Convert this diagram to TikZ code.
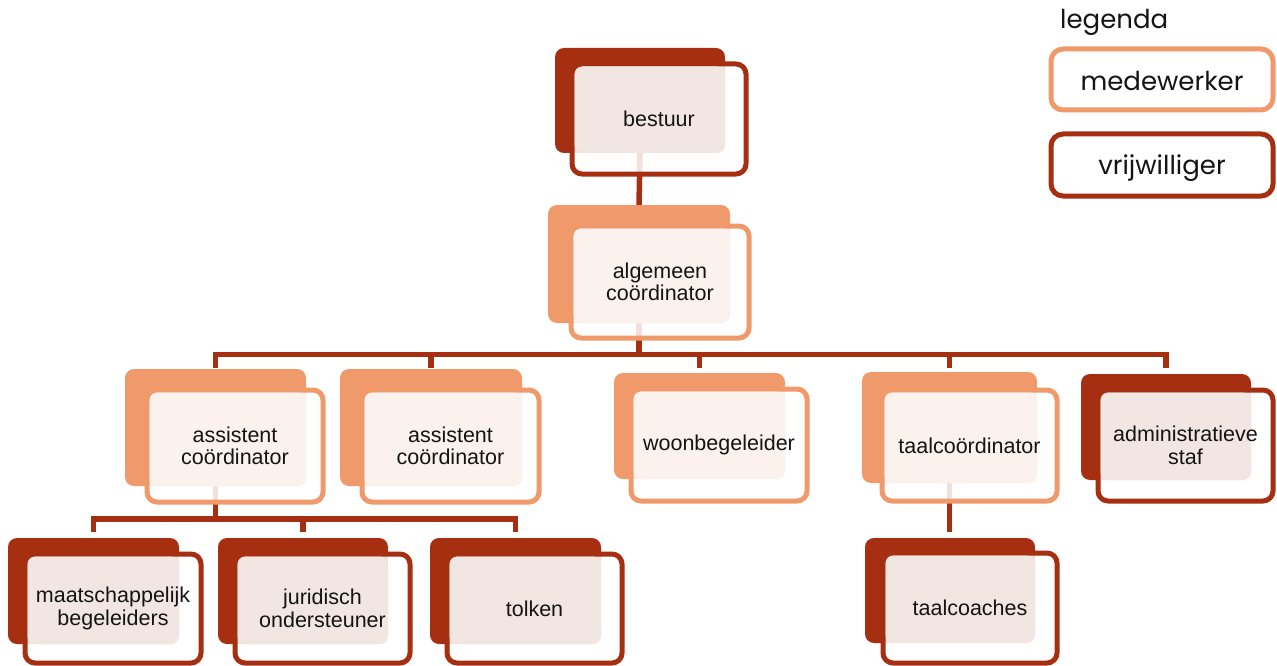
\documentclass[tikz,border=0pt]{standalone}
\usepackage{fontspec}
\setmainfont{Liberation Sans}
\newfontfamily\legendfont{Poppins}
\usetikzlibrary{fit,calc}
\definecolor{darkred}{RGB}{166,47,18}
\definecolor{peach}{RGB}{240,154,108}
\definecolor{lightdark}{RGB}{242,230,226}
\definecolor{lightpeach}{RGB}{252,242,237}
\definecolor{txt}{RGB}{20,20,20}
\pgfdeclarelayer{background}
\pgfsetlayers{background,main}
\tikzset{
  backbox/.style={inner sep=0pt, outer sep=0pt, rounded corners=9pt, fill=#1},
  frontbox/.style={inner sep=0pt, outer sep=0pt, rounded corners=10pt, draw=#1, line width=5pt, fill=white, fill opacity=0.85},
  boxtext/.style={align=center, text=txt, font=\fontsize{21.5pt}{22.5pt}\selectfont, inner sep=0pt},
  conn/.style={draw=darkred, line width=5.5pt},
  legbox/.style={draw=#1, line width=5pt, rounded corners=12pt, fill=white},
  legtext/.style={text=txt, font=\legendfont\fontsize{26pt}{28pt}\selectfont, inner sep=0pt}
}
% #1 name, #2 main colour, #3 light colour, #4 back NW, #5 back SE, #6 front NW, #7 front SE, #8 text
\newcommand{\orgbox}[8]{%
  \coordinate (#1-b1) at (#4); \coordinate (#1-b2) at (#5);
  \coordinate (#1-f1) at (#6); \coordinate (#1-f2) at (#7);
  \node[backbox=#2, fit=(#1-b1)(#1-b2)] (#1) {};
  \node[frontbox=#2, fit=(#1-f1)(#1-f2)] (#1-f) {};
  \fill[#3, rounded corners=8pt] ($(#1-f.north west)+(2.5,2.5)$) rectangle (#1.south east);
  \node[boxtext] (#1-t) at (#1-f.center) {#8};
}
\begin{document}
\begin{tikzpicture}[x=1pt,y=-1pt]
\useasboundingbox (0,0) rectangle (1277,666);

\orgbox{bestuur}{darkred}{lightdark}{555,48}{725,153}{572,64}{746,174}{bestuur}
\orgbox{alg}{peach}{lightpeach}{548,205}{730,323}{571,226}{749,338}{algemeen\\coördinator}
\orgbox{ass1}{peach}{lightpeach}{125,369}{306,486}{147,390}{323,502}{assistent\\coördinator}
\orgbox{ass2}{peach}{lightpeach}{340,369}{522,486}{362,390}{539,502}{assistent\\coördinator}
\orgbox{woon}{peach}{lightpeach}{614,373}{785,479}{631,389}{807,501}{woonbegeleider}
\orgbox{taalc}{peach}{lightpeach}{862,372}{1037,483}{882,390}{1057,501}{taalcoördinator}
\orgbox{admin}{darkred}{lightdark}{1081,374}{1251,480}{1098,390}{1273,501}{administratieve\\staf}
\orgbox{maats}{darkred}{lightdark}{8,538}{179,644}{25,554}{201,663}{maatschappelijk\\begeleiders}
\orgbox{jurid}{darkred}{lightdark}{218,538}{388,644}{235,554}{410,663}{juridisch\\ondersteuner}
\orgbox{tolken}{darkred}{lightdark}{430,538}{601,644}{447,554}{622,663}{tolken}
\orgbox{taalco}{darkred}{lightdark}{865,538}{1035,643}{883,553}{1057,663}{taalcoaches}

\coordinate (bar) at (0,354.5);
\coordinate (drop) at (0,368);
\coordinate (subbar) at (0,519);
\coordinate (subdrop) at (0,532);

\begin{pgfonlayer}{background}
\draw[conn] (bestuur.south) -- (alg.north);
\draw[conn] (alg.south) -- (alg.south |- bar);
\draw[conn, line join=miter] (ass1.north |- drop) -- (ass1.north |- bar) -- (admin.north |- bar) -- (admin.north |- drop);
\draw[conn] (ass2.north |- bar) -- (ass2.north |- drop);
\draw[conn] (woon.north |- bar) -- (woon.north |- drop);
\draw[conn] (taalc.north |- bar) -- (taalc.north |- drop);
\draw[conn] (ass1.south) -- (ass1.south |- subbar);
\draw[conn, line join=miter] (maats.north |- subdrop) -- (maats.north |- subbar) -- (tolken.north |- subbar) -- (tolken.north |- subdrop);
\draw[conn] (jurid.north |- subbar) -- (jurid.north |- subdrop);
\draw[conn] (taalc.south) -- (taalc.south |- subdrop);
\end{pgfonlayer}

% legend
\node[legtext, anchor=west] (legtitle) at (1060,22) {legenda};
\coordinate (l1a) at (1051,49); \coordinate (l1b) at (1273,110);
\coordinate (l2a) at (1051,134); \coordinate (l2b) at (1273,196);
\node[legbox=peach, fit=(l1a)(l1b), inner sep=0pt] (legmed) {};
\node[legtext] at ($(legmed.center)+(0,1)$) {medewerker};
\node[legbox=darkred, fit=(l2a)(l2b), inner sep=0pt] (legvrij) {};
\node[legtext] at ($(legvrij.center)+(0,3)$) {vrijwilliger};
\end{tikzpicture}
\end{document}
